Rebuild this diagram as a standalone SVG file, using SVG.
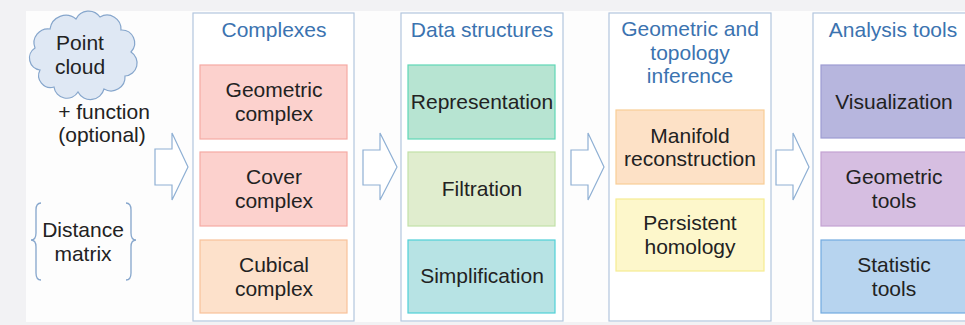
<svg xmlns="http://www.w3.org/2000/svg" width="965" height="325" viewBox="0 0 965 325">
<style>
text{font-family:"Liberation Sans",Arial,sans-serif;font-size:21px;fill:#222;text-anchor:middle}
.title{fill:#3b73b0}
.panel{fill:#fff;stroke:#b3c6de;stroke-width:1.2}
.arrow{fill:#fff;stroke:#8fb0d4;stroke-width:1.2;stroke-linejoin:miter}
.brace{fill:none;stroke:#86a6cc;stroke-width:1.3}
.b{stroke-width:1.2}
</style>
<rect width="965" height="325" fill="#f2f2f4"/>
<rect x="26" y="11" width="939" height="311" fill="#fdfdfd"/>

<g id="point-cloud">
<path d="M40,70 A12,12 0 0 1 35,48 A14,14 0 0 1 50,29 A16,16 0 0 1 76,19 A14,14 0 0 1 100,17 A14,14 0 0 1 121,30 A13,13 0 0 1 131,52 A13,13 0 0 1 125,76 A14,14 0 0 1 104,89 A14,14 0 0 1 78,92 A13,13 0 0 1 54,87 A12,12 0 0 1 40,70 Z" fill="#dfe8f4" stroke="#86a6cc" stroke-width="1.2"/>
<text x="80" y="50">Point</text>
<text x="80" y="74">cloud</text>
</g>
<g id="function-label">
<text x="104" y="119">+ function</text>
<text x="102" y="142">(optional)</text>
</g>
<g id="distance-matrix">
<path class="brace" d="M41,203 Q36,203 36,210 L36,233 Q36,240 31,240 Q36,240 36,247 L36,273 Q36,280 41,280"/>
<path class="brace" d="M126,203 Q131,203 131,210 L131,233 Q131,240 136,240 Q131,240 131,247 L131,273 Q131,280 126,280"/>
<text x="83" y="237">Distance</text>
<text x="83" y="261">matrix</text>
</g>

<g id="connectors">
<path class="arrow" d="M155,149 L172,149 L172,133 L188,167 L172,200 L172,185 L155,185 Z"/>
<path class="arrow" d="M363,150 L380,150 L380,133 L397,167 L380,200 L380,185 L363,185 Z"/>
<path class="arrow" d="M571,150 L588,150 L588,133 L604,167 L588,200 L588,185 L571,185 Z"/>
<path class="arrow" d="M776,150 L793,150 L793,133 L809,167 L793,200 L793,185 L776,185 Z"/>
</g>

<g id="complexes">
<rect class="panel" x="193" y="13" width="161" height="308"/>
<text class="title" x="274" y="37">Complexes</text>
</g>
<g id="geometric-complex">
<rect class="b" x="200" y="65" width="147" height="74" fill="#fcd1cd" stroke="#f5aaa4"/>
<text x="274" y="97">Geometric</text>
<text x="274" y="121">complex</text>
</g>
<g id="cover-complex">
<rect class="b" x="200" y="152" width="147" height="74" fill="#fcd1cd" stroke="#f5aaa4"/>
<text x="274" y="184">Cover</text>
<text x="274" y="208">complex</text>
</g>
<g id="cubical-complex">
<rect class="b" x="200" y="240" width="147" height="73" fill="#fde1cb" stroke="#f8c29a"/>
<text x="274" y="272">Cubical</text>
<text x="274" y="296">complex</text>
</g>

<g id="data-structures">
<rect class="panel" x="401" y="13" width="162" height="308"/>
<text class="title" x="482" y="37">Data structures</text>
</g>
<g id="representation">
<rect class="b" x="408" y="65" width="147" height="74" fill="#b7e4d2" stroke="#5fd7b6"/>
<text x="482" y="109">Representation</text>
</g>
<g id="filtration">
<rect class="b" x="408" y="152" width="147" height="74" fill="#e0edce" stroke="#c2e1a8"/>
<text x="482" y="196">Filtration</text>
</g>
<g id="simplification">
<rect class="b" x="408" y="240" width="147" height="73" fill="#b7e3e4" stroke="#4fd0d7"/>
<text x="482" y="283">Simplification</text>
</g>

<g id="inference">
<rect class="panel" x="609" y="13" width="162" height="308"/>
<text class="title" x="690" y="36">Geometric and</text>
<text class="title" x="690" y="60">topology</text>
<text class="title" x="690" y="83">inference</text>
</g>
<g id="manifold-reconstruction">
<rect class="b" x="616" y="110" width="148" height="74" fill="#fde1c6" stroke="#f8cd96"/>
<text x="690" y="143">Manifold</text>
<text x="690" y="166">reconstruction</text>
</g>
<g id="persistent-homology">
<rect class="b" x="616" y="199" width="148" height="72" fill="#fdf7cb" stroke="#f6ec92"/>
<text x="690" y="230">Persistent</text>
<text x="690" y="254">homology</text>
</g>

<g id="analysis-tools">
<rect class="panel" x="813" y="13" width="170" height="308"/>
<text class="title" x="893" y="37">Analysis tools</text>
</g>
<g id="visualization">
<rect class="b" x="821" y="65" width="160" height="73" fill="#b7b6de" stroke="#9d9cd2"/>
<text x="894" y="109">Visualization</text>
</g>
<g id="geometric-tools">
<rect class="b" x="821" y="152" width="160" height="74" fill="#d6bee1" stroke="#c3a2d2"/>
<text x="894" y="184">Geometric</text>
<text x="894" y="208">tools</text>
</g>
<g id="statistic-tools">
<rect class="b" x="821" y="240" width="160" height="73" fill="#b7d4ef" stroke="#72abdf"/>
<text x="894" y="272">Statistic</text>
<text x="894" y="296">tools</text>
</g>
</svg>
